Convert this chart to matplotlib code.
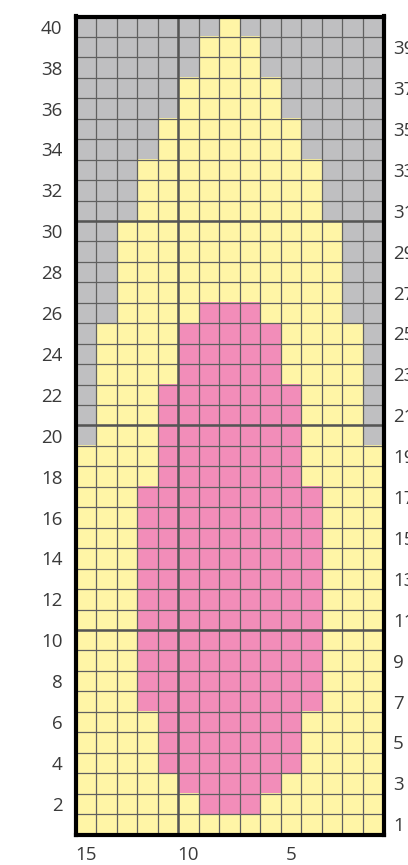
import matplotlib
matplotlib.use("Agg")
import matplotlib.pyplot as plt
import numpy as np
from matplotlib.colors import ListedColormap

plt.rcParams["font.family"] = ["Open Sans", "DejaVu Sans"]

# Chart rows from row 40 (top) down to row 1; leftmost char = stitch 15
# G = gray (no stitch), Y = yellow, P = pink
CHART = (
    ["GGGGGGGYGGGGGGG"]
    + ["GGGGGGYYYGGGGGG"] * 2
    + ["GGGGGYYYYYGGGGG"] * 2
    + ["GGGGYYYYYYYGGGG"] * 2
    + ["GGGYYYYYYYYYGGG"] * 3
    + ["GGYYYYYYYYYYYGG"] * 4
    + ["GGYYYYPPPYYYYGG"]
    + ["GYYYYPPPPPYYYYG"] * 3
    + ["GYYYPPPPPPPYYYG"] * 3
    + ["YYYYPPPPPPPYYYY"] * 2
    + ["YYYPPPPPPPPPYYY"] * 11
    + ["YYYYPPPPPPPYYYY"] * 3
    + ["YYYYYPPPPPYYYYY"]
    + ["YYYYYYPPPYYYYYY"]
    + ["YYYYYYYYYYYYYYY"]
)
N_ROWS = len(CHART)
N_COLS = len(CHART[0])
COLOR_KEYS = "GYP"
COLORS = ["#bfbfc1", "#fff5a6", "#f28db9"]
BOTTOM_LABELS = [15, 10, 5]

grid = np.array([[COLOR_KEYS.index(c) for c in row] for row in CHART])

W, H = 408, 865
fig = plt.figure(figsize=(W / 100, H / 100), dpi=100)
fig.patch.set_facecolor("white")
ax = fig.add_axes([75.5 / W, (H - 834.5) / H, 308 / W, 818 / H])

ax.imshow(grid, cmap=ListedColormap(COLORS), vmin=0, vmax=2,
          extent=(0, N_COLS, 0, N_ROWS), origin="upper",
          interpolation="nearest", aspect="auto")
ax.set_xlim(0, N_COLS)
ax.set_ylim(0, N_ROWS)

# thin grid lines
for x in range(1, N_COLS):
    ax.axvline(x, color="#606060", lw=0.9, zorder=3)
for y in range(1, N_ROWS):
    ax.axhline(y, color="#606060", lw=0.9, zorder=3)
# thicker lines every 10 stitches / rows
for y in range(10, N_ROWS, 10):
    ax.axhline(y, color="#555555", lw=1.8, zorder=4)
ax.axvline(N_COLS - 10, color="#555555", lw=1.8, zorder=4)

for s in ax.spines.values():
    s.set_linewidth(3)
    s.set_color("black")
    s.set_zorder(5)

rows = np.arange(1, N_ROWS + 1)
even = rows[rows % 2 == 0]
odd = rows[rows % 2 == 1]

LABEL_SIZE = 13.5
LABEL_COLOR = "#3a3a3a"

ax.set_yticks(even - 0.5)
ax.set_yticklabels([str(r) for r in even])
ax.set_xticks([N_COLS - s + 0.5 for s in BOTTOM_LABELS])
ax.set_xticklabels([str(s) for s in BOTTOM_LABELS])
ax.tick_params(axis="both", length=0, labelsize=LABEL_SIZE, labelcolor=LABEL_COLOR)
ax.tick_params(axis="y", pad=9.5)
ax.tick_params(axis="x", pad=8.5)

ax2 = ax.twinx()
ax2.set_ylim(0, N_ROWS)
ax2.set_yticks(odd - 0.5)
ax2.set_yticklabels([str(r) for r in odd])
ax2.tick_params(axis="y", length=0, labelsize=LABEL_SIZE, labelcolor=LABEL_COLOR, pad=7)
for s in ax2.spines.values():
    s.set_visible(False)

fig.savefig("out.png", dpi=100, facecolor="white")
